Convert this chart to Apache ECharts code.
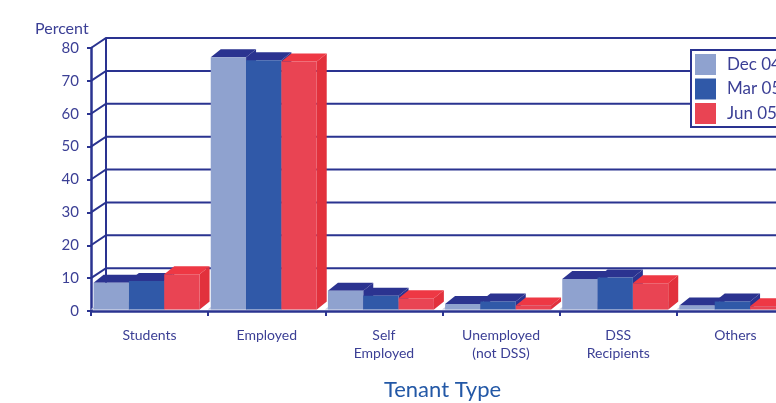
<!DOCTYPE html>
<html>
<head>
<meta charset="utf-8">
<script src="https://cdn.jsdelivr.net/npm/echarts@6/dist/echarts.min.js"></script>
<style>
  html, body { margin: 0; padding: 0; background: #ffffff; }
  #chart { width: 776px; height: 403px; }
</style>
</head>
<body>
<div id="chart"></div>
<script>
// Tenant type shares by survey period (percent)
const categories = ['Students', 'Employed', 'Self\nEmployed', 'Unemployed\n(not DSS)', 'DSS\nRecipients', 'Others'];
const seriesNames = ['Dec 04', 'Mar 05', 'Jun 05'];
const dec04 = [8.1, 76.7, 5.7, 1.7, 9.3, 1.2];
const mar05 = [8.7, 75.8, 4.2, 2.4, 9.7, 2.4];
const jun05 = [10.7, 75.4, 3.4, 1.2, 8.0, 1.0];
const yTicks = [0, 10, 20, 30, 40, 50, 60, 70, 80];

const NAVY = '#2a3390';
const TEXT = '#3b3f95';
const FONT = 'Lato, "Open Sans", sans-serif';

// face colours per series: front, top, side
const faces = [
  { front: '#8fa2cf', top: '#2b3390', side: '#2b3390' },
  { front: '#3059a8', top: '#2b3390', side: '#2b3390' },
  { front: '#e94453', top: '#ee3844', side: '#e2313c' }
];

// 3D offsets
const WALL_DX = 15, WALL_DY = -10;
const BAR_DX = 10, BAR_DY = -8;
const BAR_FRAC = 0.3015;
const GROUP_OFF = 0.022;
const LIFT = -1.5;

function barGeom(api, s) {
  const cat = api.value(0), v = api.value(1);
  const base = api.coord([cat, 0]);
  const top = api.coord([cat, v]);
  const band = api.size([1, 0])[0];
  const w = band * BAR_FRAC;
  const x0 = base[0] - band / 2 + band * GROUP_OFF + s * w;
  return { x0, w, yb: base[1] + LIFT, yt: top[1] + LIFT, band };
}

function barRenderer(s) {
  return function (params, api) {
    const g = barGeom(api, s);
    const { x0, w, yb, yt } = g;
    const c = faces[s];
    return {
      type: 'group',
      children: [
        { type: 'polygon', shape: { points: [[x0 + w, yt], [x0 + w + BAR_DX, yt + BAR_DY], [x0 + w + BAR_DX, yb + BAR_DY], [x0 + w, yb]] }, style: { fill: c.side } },
        { type: 'polygon', shape: { points: [[x0, yt], [x0 + w, yt], [x0 + w + BAR_DX, yt + BAR_DY], [x0 + BAR_DX, yt + BAR_DY]] }, style: { fill: c.top } },
        { type: 'rect', shape: { x: x0, y: yt, width: w, height: yb - yt }, style: { fill: c.front } }
      ]
    };
  };
}

// back wall, side-wall diagonals and gridlines
function wallRenderer(params, api) {
  const cs = params.coordSys;
  const v = api.value(1);
  const y = api.coord([0, v])[1];
  const gx = cs.x;
  const farX = cs.x + cs.width + 60;
  const children = [];
  if (v === 0) {
    const yTop = api.coord([0, yTicks[yTicks.length - 1]])[1];
    children.push({ type: 'line', shape: { x1: gx + WALL_DX, y1: y + WALL_DY, x2: gx + WALL_DX, y2: yTop + WALL_DY }, style: { stroke: NAVY, lineWidth: 2 } });
  } else {
    children.push({ type: 'polyline', shape: { points: [[gx, y], [gx + WALL_DX, y + WALL_DY], [farX, y + WALL_DY]] }, style: { stroke: NAVY, lineWidth: 2, fill: null } });
  }
  return { type: 'group', children };
}

// light floor under each group of bars
function floorRenderer(params, api) {
  const g = barGeom(api, 0);
  const gw = g.w * 3;
  const x0 = g.x0 - 3;
  return {
    type: 'polygon',
    shape: { points: [[x0, g.yb], [g.x0 + gw, g.yb], [g.x0 + gw + BAR_DX, g.yb + BAR_DY], [x0 + BAR_DX, g.yb + BAR_DY]] },
    style: { fill: '#c9cee2' }
  };
}

const chart = echarts.init(document.getElementById('chart'), null, { renderer: 'canvas' });

const valueSets = [dec04, mar05, jun05];

chart.setOption({
  backgroundColor: '#ffffff',
  animation: false,
  title: {
    text: 'Percent',
    left: 30,
    top: 16,
    textStyle: { fontFamily: FONT, fontSize: 16, fontWeight: 'normal', color: TEXT }
  },
  legend: {
    orient: 'vertical',
    left: 691,
    top: 50,
    padding: [4, 12, 3, 4],
    itemWidth: 21,
    itemHeight: 21,
    itemGap: 3.5,
    icon: 'rect',
    backgroundColor: '#ffffff',
    borderColor: NAVY,
    borderWidth: 2,
    borderRadius: 0,
    textStyle: { fontFamily: FONT, fontSize: 17, color: TEXT, padding: [0, 0, 0, 6] },
    data: seriesNames
  },
  grid: { left: 91, right: -18, top: 48, bottom: 92, containLabel: false, outerBoundsMode: 'none' },
  xAxis: {
    type: 'category',
    data: categories,
    name: 'Tenant Type',
    nameLocation: 'middle',
    nameGap: 68,
    nameTextStyle: { fontFamily: FONT, fontSize: 22, color: '#2358a6' },
    axisLine: { lineStyle: { color: NAVY, width: 2.5 } },
    axisTick: { show: true, interval: 0, length: 5, lineStyle: { color: NAVY, width: 2 } },
    axisLabel: { interval: 0, margin: 15, fontFamily: FONT, fontSize: 14, lineHeight: 18, color: TEXT },
    splitLine: { show: false }
  },
  yAxis: {
    type: 'value',
    min: 0,
    max: 80,
    interval: 10,
    axisLine: { show: true, lineStyle: { color: NAVY, width: 2.5 } },
    axisTick: { show: true, length: 4, lineStyle: { color: NAVY, width: 2 } },
    axisLabel: { margin: 12, fontFamily: FONT, fontSize: 15, color: TEXT },
    splitLine: { show: false }
  },
  series: [
    {
      type: 'custom',
      name: 'wall',
      silent: true,
      z: 1,
      renderItem: wallRenderer,
      data: yTicks.map(v => [0, v])
    },
    {
      type: 'custom',
      name: 'floor',
      silent: true,
      z: 1,
      renderItem: floorRenderer,
      data: categories.map((c, i) => [i, 0])
    }
  ].concat(seriesNames.map((name, s) => ({
    type: 'custom',
    name: name,
    z: 2,
    itemStyle: { color: faces[s].front },
    renderItem: barRenderer(s),
    encode: { x: 0, y: 1 },
    data: valueSets[s].map((v, i) => [i, v])
  })))
});
</script>
</body>
</html>
